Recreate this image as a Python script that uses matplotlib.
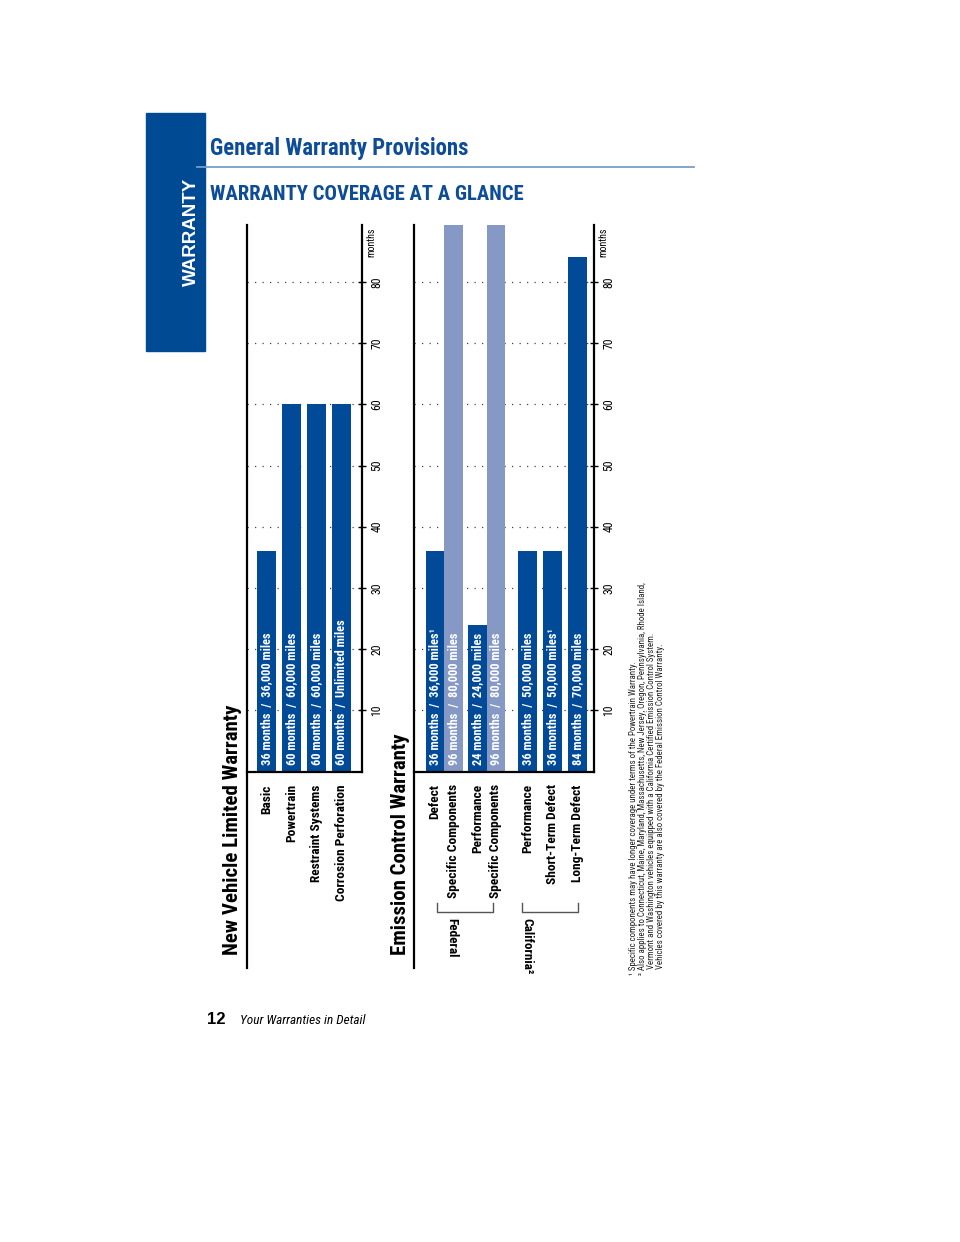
import matplotlib
matplotlib.use("Agg")
import matplotlib.pyplot as plt
from matplotlib.patches import Rectangle
from matplotlib.lines import Line2D
from matplotlib.transforms import blended_transform_factory, offset_copy
from matplotlib import font_manager

# ---------------- data ----------------
nv_categories = ["Basic", "Powertrain", "Restraint Systems", "Corrosion Perforation"]
nv_months = [36, 60, 60, 60]
nv_labels = ["36 months  /  36,000 miles", "60 months  /  60,000 miles",
             "60 months  /  60,000 miles", "60 months  /  Unlimited miles"]

em_categories = ["Defect", "Specific Components", "Performance", "Specific Components",
                 "Performance", "Short-Term Defect", "Long-Term Defect"]
em_months = [36, 96, 24, 96, 36, 36, 84]
em_labels = ["36 months  /  36,000 miles¹", "96 months  /  80,000 miles",
             "24 months  /  24,000 miles", "96 months  /  80,000 miles",
             "36 months  /  50,000 miles", "36 months  /  50,000 miles¹",
             "84 months  /  70,000 miles"]
em_specific = [False, True, False, True, False, False, False]
em_groups = ["Federal", "California²"]

tick_values = [10, 20, 30, 40, 50, 60, 70, 80]

footnotes = [
    "¹ Specific components may have longer coverage under terms of the Powertrain Warranty.",
    "² Also applies to Connecticut, Maine, Maryland, Massachusetts, New Jersey, Oregon, Pennsylvania, Rhode Island,",
    "   Vermont and Washington vehicles equipped with a California Certified Emission Control System.",
    "   Vehicles covered by this warranty are also covered by the Federal Emission Control Warranty.",
]

# ---------------- style ----------------
DARK = "#004a98"
LIGHT = "#8599c4"
HEAD = "#0d4c97"
names = {f.name for f in font_manager.fontManager.ttflist}
cond_cands = ["Roboto Condensed", "Liberation Sans Narrow", "Open Sans Condensed", "DejaVu Sans Condensed"]
cond = [c for c in cond_cands if c in names]
HAVE_COND = bool(cond)
NARROW = (cond[:1] + ["DejaVu Sans"]) if HAVE_COND else ["DejaVu Sans"]
K = 1.0 if HAVE_COND else 0.8
STRETCH = "condensed"
W, H = 960, 1242

fig = plt.figure(figsize=(W / 100, H / 100), dpi=100)
fig.patch.set_facecolor("white")

def fx(px):
    return px / W

def fy(py):
    return 1 - py / H

def ntext(x, y, s, size, **kw):
    return fig.text(x, y, s, fontsize=size * K, family=NARROW, fontstretch=STRETCH, **kw)

# sidebar
fig.patches.append(Rectangle((fx(146), fy(351)), fx(205) - fx(146), fy(113) - fy(351),
                             transform=fig.transFigure, color="#004a93", zorder=0))
fig.text(fx(191), fy(232), "WARRANTY", rotation=90, ha="center", va="center",
         color="white", fontsize=13.5, fontweight="bold", family=["Liberation Sans", "DejaVu Sans"])

# headings
ntext(fx(210), fy(149), "General Warranty Provisions", 16.4, ha="left", va="center",
      color=HEAD, fontweight="bold")
fig.lines.append(Line2D([fx(197), fx(694)], [fy(167), fy(167)], transform=fig.transFigure,
                        color="#7a9ccb", lw=1.3))
ntext(fx(210), fy(195), "WARRANTY COVERAGE AT A GLANCE", 14.9, ha="left", va="center",
      color=HEAD, fontweight="bold")

# footer
fig.text(fx(207), fy(1020), "12", ha="left", va="center", fontsize=12, fontweight="bold",
         family=["Liberation Sans", "DejaVu Sans"], color="black")
ntext(fx(240), fy(1020), "Your Warranties in Detail", 9.5, ha="left", va="center",
      style="italic", color="black")

TOP, BASE = 225, 771.5
YMAX = (BASE - TOP) / 6.12


def make_chart(left_px, right_px, title, title_x, positions, values, colors, labels, cats, width):
    ax = fig.add_axes([fx(left_px), fy(BASE), fx(right_px) - fx(left_px), fy(TOP) - fy(BASE)])
    ax.set_xlim(0, (right_px - left_px) / 25.0)
    ax.set_ylim(0, YMAX)
    for s in ["top", "left"]:
        ax.spines[s].set_visible(False)
    ax.spines["right"].set_linewidth(1.6)
    ax.spines["bottom"].set_linewidth(1.6)
    ax.yaxis.tick_right()
    ax.set_yticks(tick_values)
    ax.set_yticklabels([str(v) for v in tick_values], rotation=90, va="center",
                       fontsize=8.5 * K, family=NARROW, fontstretch=STRETCH)
    ax.tick_params(axis="y", direction="inout", length=6, width=1, pad=3)
    ax.set_xticks([])
    for v in tick_values:
        ax.axhline(v, color="#444444", lw=0.9, ls=(0, (1, 5)), zorder=0)
    ax.bar(positions, values, width=width, color=colors, zorder=2)
    for p, lab in zip(positions, labels):
        ax.text(p, 1.0, lab, rotation=90, ha="center", va="bottom", color="white",
                fontsize=8.9 * K, fontweight="bold", family=NARROW, fontstretch=STRETCH, zorder=3)
    for p, c in zip(positions, cats):
        ax.text(p, -2.1, c, rotation=90, ha="center", va="top", color="black",
                fontsize=9.6 * K, fontweight="bold", family=NARROW, fontstretch=STRETCH,
                clip_on=False)
    tr = offset_copy(blended_transform_factory(ax.transAxes, ax.transData), fig=fig,
                     x=9, y=0, units="dots")
    ax.text(1.0, 86.5, "months", rotation=90, ha="center", va="center", transform=tr,
            fontsize=7.2 * K, family=NARROW, fontstretch=STRETCH, clip_on=False)
    # long left rule
    fig.lines.append(Line2D([fx(left_px), fx(left_px)], [fy(TOP), fy(968)],
                            transform=fig.transFigure, color="black", lw=1.6))
    ntext(fx(title_x), fy(955), title, 15.0, rotation=90, ha="center", va="bottom",
          fontweight="bold", color="black")
    return ax


# chart 1 layout
nv_pos = [0.78 + i * 1.0 for i in range(len(nv_months))]
make_chart(247, 362, "New Vehicle Limited Warranty", 233, nv_pos, nv_months,
           [DARK] * len(nv_months), nv_labels, nv_categories, 0.76)

# chart 2 layout (pairs for federal, singles for california)
gaps = [0.84, 0.74, 0.96, 0.74, 1.26, 1.0, 1.0]
em_pos = []
acc = 0
for g in gaps:
    acc += g
    em_pos.append(acc)
em_colors = [LIGHT if s else DARK for s in em_specific]
ax2 = make_chart(414, 594, "Emission Control Warranty", 400, em_pos, em_months,
                 em_colors, em_labels, em_categories, 0.74)

# group brackets
bracket_y1, bracket_y2 = 903, 912
for (x0, x1), name, tx in [((437, 493), em_groups[0], 452), ((522, 578), em_groups[1], 527)]:
    fig.lines.append(Line2D([fx(x0), fx(x0), fx(x1), fx(x1)],
                            [fy(bracket_y1), fy(bracket_y2), fy(bracket_y2), fy(bracket_y1)],
                            transform=fig.transFigure, color="#555555", lw=1.0))
    ntext(fx(tx), fy(918), name, 9.5, rotation=270, ha="center", va="top",
          fontweight="bold", color="black")

# footnotes
for i, line in enumerate(footnotes):
    ntext(fx(633 + i * 9.2), fy(975), line, 6.4, rotation=90, ha="center", va="bottom",
          color="#222222")

fig.savefig("out.png", dpi=100)
